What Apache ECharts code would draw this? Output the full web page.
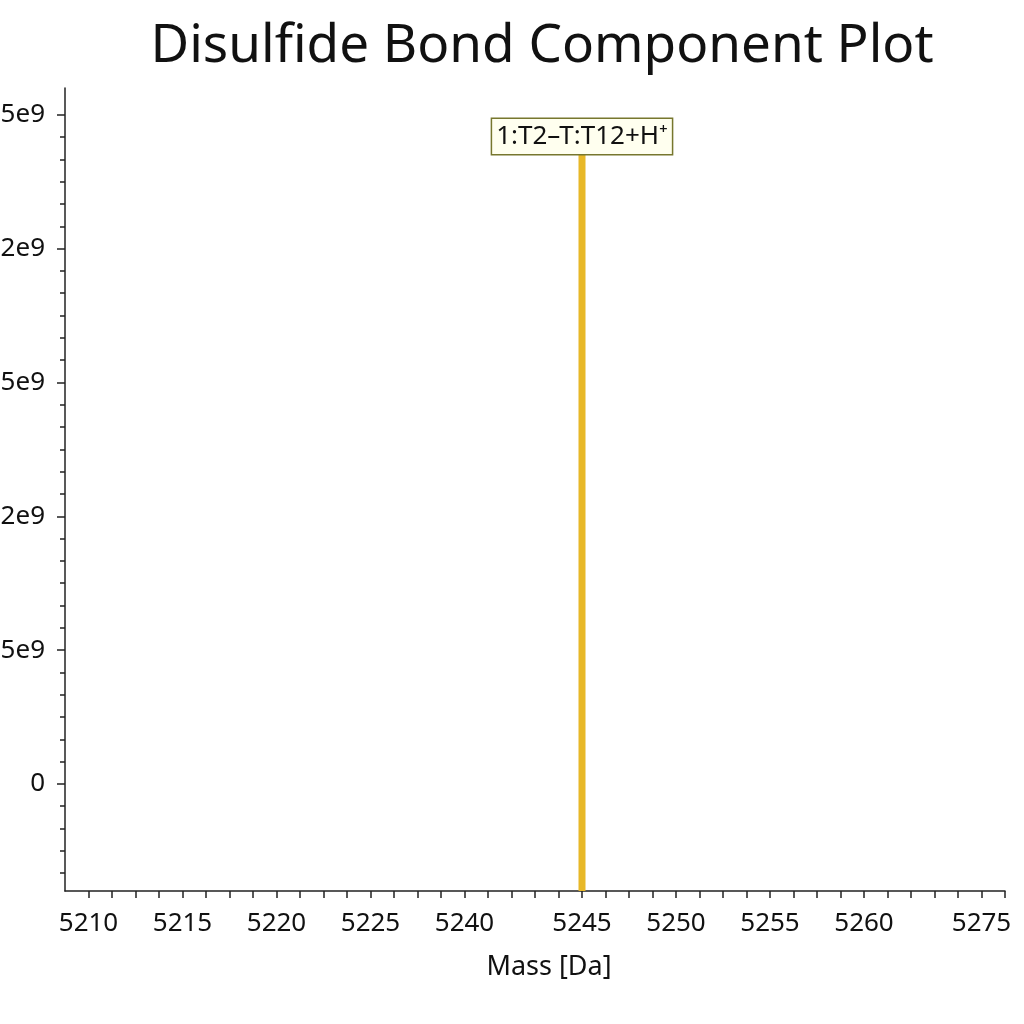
<!DOCTYPE html>
<html>
<head>
<meta charset="utf-8">
<title>Disulfide Bond Component Plot</title>
<script src="https://cdn.jsdelivr.net/npm/echarts@6/dist/echarts.min.js"></script>
<style>
  html, body { margin: 0; padding: 0; background: #fff; }
  #chart { width: 1024px; height: 1024px; }
</style>
</head>
<body>
<div id="chart"></div>
<script>
// tick labels as printed on the plot
const xTickLabels = ['5210', '5215', '5220', '5225', '5240', '5245', '5250', '5255', '5260', '5275'];
const yTickValues = [0, 0.5e9, 1.0e9, 1.5e9, 2.0e9, 2.5e9];
const yTickLabels = ['0', '5e9', '2e9', '5e9', '2e9', '5e9'];

// peaks
const peakMasses = ['5245'];
const peakIntensities = [2.35e9];
const peakLabels = ['1:T2\u2013T:T12+H\u207A'];

// axis layout: x axis is drawn in tick slots, label i sits on slot xTickSlots[i]
const xTickSlots = [1, 5, 9, 13, 17, 22, 26, 30, 34, 39];
const xMin = 0, xMax = 40;
const yMin = -0.4e9, yMax = 2.6e9;

const slotOf = (mass) => xTickSlots[xTickLabels.indexOf(mass)];

const xTicks = [];
for (let i = 1; i <= xMax; i++) xTicks.push(i);
// six minor steps per labelled step
const yMinor = [];
for (let v = -4; v <= 30; v++) {
  if (v % 6 !== 0) yMinor.push(v * 0.5e9 / 6);
}

const font = 'Noto Sans';
const chart = echarts.init(document.getElementById('chart'));

chart.setOption({
  backgroundColor: '#fff',
  animation: false,
  title: {
    text: 'Disulfide Bond Component Plot',
    left: 537,
    top: 15,
    textAlign: 'center',
    textStyle: { fontFamily: font, fontSize: 53, fontWeight: 'normal', color: '#111' }
  },
  grid: { left: 65, right: 19, top: 88, bottom: 133, outerBoundsMode: 'none', containLabel: false },
  xAxis: {
    type: 'value',
    min: xMin,
    max: xMax,
    name: 'Mass [Da]',
    nameLocation: 'middle',
    nameGap: 63,
    nameTextStyle: { fontFamily: font, fontSize: 27, color: '#111', padding: [0, 0, 0, 28] },
    axisLine: { onZero: false, lineStyle: { color: '#222', width: 1.5 } },
    axisTick: { customValues: xTicks, length: 7, lineStyle: { color: '#222', width: 1.5 } },
    axisLabel: {
      customValues: xTickSlots,
      margin: 20,
      fontFamily: font,
      fontSize: 26,
      color: '#111',
      formatter: (v) => xTickLabels[xTickSlots.indexOf(v)] || ''
    },
    splitLine: { show: false }
  },
  yAxis: [
    {
      type: 'value',
      min: yMin,
      max: yMax,
      axisLine: { show: true, onZero: false, lineStyle: { color: '#222', width: 1.5 } },
      axisTick: { customValues: yTickValues, length: 8, lineStyle: { color: '#222', width: 1.5 } },
      axisLabel: {
        customValues: yTickValues,
        margin: 20,
        fontFamily: font,
        fontSize: 26,
        color: '#111',
        formatter: (v) => yTickLabels[yTickValues.indexOf(v)] || ''
      },
      splitLine: { show: false }
    },
    {
      type: 'value',
      min: yMin,
      max: yMax,
      position: 'left',
      axisLine: { show: false },
      axisTick: { customValues: yMinor, length: 5, lineStyle: { color: '#222', width: 1.5 } },
      axisLabel: { show: false },
      splitLine: { show: false }
    }
  ],
  series: [
    {
      type: 'custom',
      xAxisIndex: 0,
      yAxisIndex: 0,
      data: peakMasses.map((m, i) => [slotOf(m), peakIntensities[i]]),
      renderItem: (params, api) => {
        const x = api.value(0);
        const top = api.coord([x, api.value(1)]);
        const base = api.coord([x, yMin]);
        const w = 7;
        return {
          type: 'group',
          children: [
            {
              type: 'rect',
              shape: { x: top[0] - w / 2, y: top[1], width: w, height: base[1] - top[1] },
              style: { fill: '#E8B828' }
            },
            {
              type: 'text',
              x: top[0],
              y: top[1] - 1,
              style: {
                text: peakLabels[params.dataIndex],
                fontFamily: font,
                fontSize: 26,
                fill: '#111',
                align: 'center',
                verticalAlign: 'bottom',
                backgroundColor: '#FFFFEF',
                borderColor: '#77772E',
                borderWidth: 1.5,
                padding: [5, 4, 4, 4]
              }
            }
          ]
        };
      }
    }
  ]
});
</script>
</body>
</html>
